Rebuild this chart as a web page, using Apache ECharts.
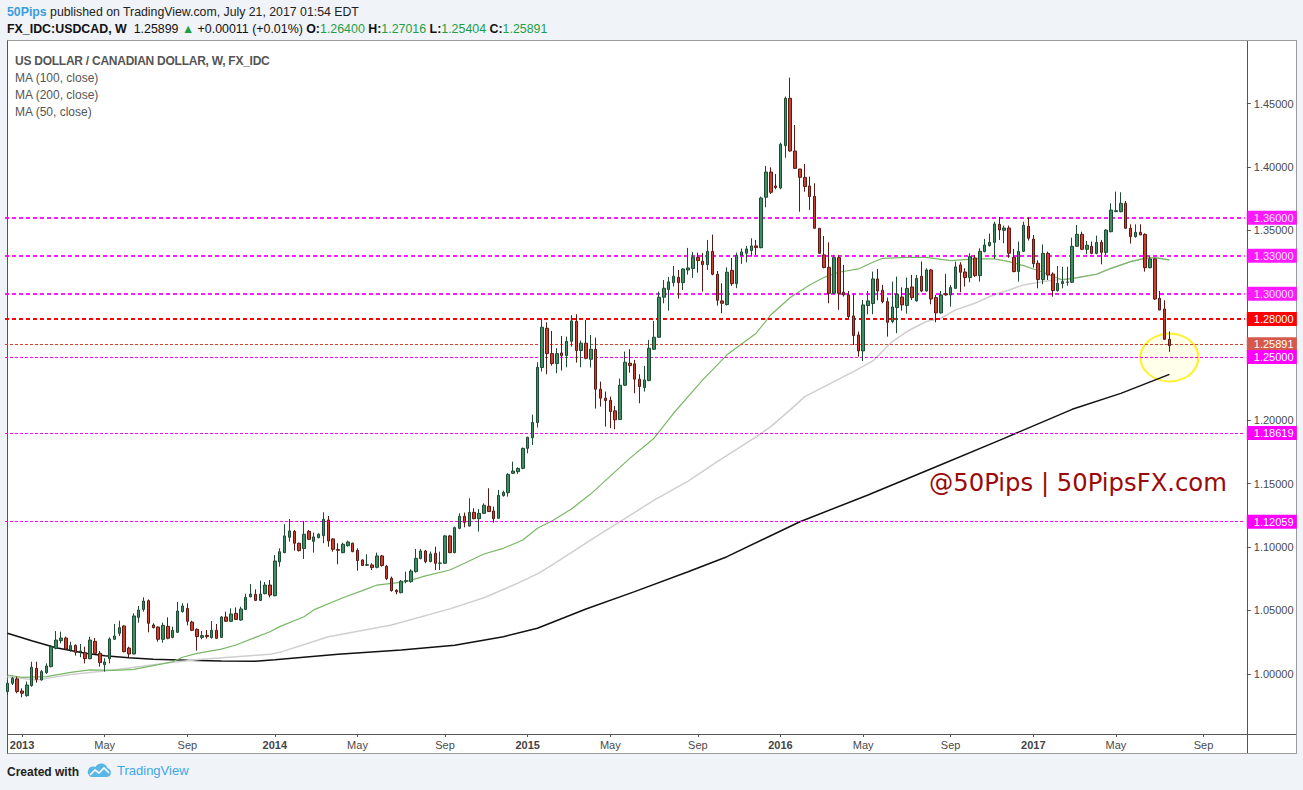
<!DOCTYPE html>
<html>
<head>
<meta charset="utf-8">
<script src="https://cdn.jsdelivr.net/npm/echarts@6/dist/echarts.min.js"></script>
<style>
html,body{margin:0;padding:0;background:#f0f3f7;}
body{width:1303px;height:790px;overflow:hidden;position:relative;font-family:"Liberation Sans",Arial,sans-serif;}
#panel{position:absolute;left:7px;top:40px;width:1288px;height:712px;background:#fff;border:1px solid #9a9a9a;border-left-color:#555;z-index:0;}
#hline{position:absolute;left:8px;top:734px;width:1288px;height:1px;background:#555;z-index:1;}
#vline{position:absolute;left:1247px;top:41px;width:1px;height:712px;background:#555;z-index:1;}
#chart{position:absolute;left:0;top:0;width:1303px;height:790px;z-index:2;}
.t{position:absolute;white-space:nowrap;z-index:3;line-height:14px;}
.h1{left:7px;top:5px;font-size:12.3px;color:#222;}
.h2{left:7px;top:22px;font-size:12.4px;color:#111;}
.b{font-weight:bold;}
.g{color:#1f9e46;}
.leg{left:15px;font-size:12px;color:#555;}
.wm{left:929px;top:471px;font-family:"DejaVu Sans",sans-serif;font-size:24.3px;line-height:24px;color:#990a0a;}
.foot{left:7px;top:765px;font-size:12px;color:#222;font-weight:bold;}
.tv{left:117px;top:764px;font-size:13px;color:#3ea7e8;}
#logo{position:absolute;left:87px;top:763px;z-index:3;}
</style>
</head>
<body>
<div id="panel"></div>
<div id="hline"></div>
<div id="vline"></div>
<div id="chart"></div>

<div class="t h1"><span style="color:#3a9de0;font-weight:bold">50Pips</span> published on TradingView.com, July 21, 2017 01:54 EDT</div>
<div class="t h2"><span class="b">FX_IDC:USDCAD, W</span>&nbsp; 1.25899 <span class="g">&#9650;</span> +0.00011 (+0.01%) <span class="b">O:</span><span class="g">1.26400</span> <span class="b">H:</span><span class="g">1.27016</span> <span class="b">L:</span><span class="g">1.25404</span> <span class="b">C:</span><span class="g">1.25891</span></div>

<div class="t leg" style="top:54px;font-weight:bold;letter-spacing:-0.25px">US DOLLAR / CANADIAN DOLLAR, W, FX_IDC</div>
<div class="t leg" style="top:71px">MA (100, close)</div>
<div class="t leg" style="top:88px">MA (200, close)</div>
<div class="t leg" style="top:105px">MA (50, close)</div>

<div class="t wm">@50Pips | 50PipsFX.com</div>

<div class="t foot">Created with</div>
<svg id="logo" width="25" height="15" viewBox="0 0 25 15">
  <path d="M4 14 H20 A4.5 4.5 0 0 0 20.5 5.2 A6.5 6.5 0 0 0 8.5 4 A5 5 0 0 0 4 14 Z" fill="#5ab6e6"/>
  <polyline points="3,12 8,7 12,10 17,5 22,10" fill="none" stroke="#ffffff" stroke-width="1.6"/>
</svg>
<div class="t tv">TradingView</div>

<script>
// ---- weekly candles (USDCAD, W), index 0 = week of 16/17 Dec 2012 ----
const opens = [
0.9859,0.9925,0.9959,0.9864,0.9827,0.9906,1.0043,0.9951,1.0009,1.0056,
1.0201,1.0261,1.0282,1.0188,1.0224,1.0172,1.0166,1.0119,1.0256,1.0161,
1.0072,1.0119,1.0272,1.0319,1.0377,1.0203,1.0156,1.0445,1.0508,1.0577,
1.0385,1.0369,1.0272,1.0374,1.0287,1.0327,1.0490,1.0516,1.0408,1.0351,
1.0287,1.0303,1.0285,1.0343,1.0287,1.0448,1.0414,1.0477,1.0424,1.0508,
1.0608,1.0627,1.0579,1.0632,1.0700,1.0616,1.0884,1.0956,1.1077,1.1124,
1.1030,1.0988,1.1124,1.1045,1.1074,1.1090,1.1214,1.1064,1.0980,1.0956,
1.1011,1.1030,1.0974,1.0898,1.0856,1.0859,1.0840,1.0930,1.0848,1.0754,
1.0659,1.0640,1.0730,1.0727,1.0806,1.0909,1.0969,1.0885,1.0951,1.0872,
1.0872,1.1088,1.0956,1.1148,1.1243,1.1166,1.1274,1.1224,1.1266,1.1322,
1.1285,1.1227,1.1406,1.1429,1.1582,1.1595,1.1621,1.1779,1.1863,1.1983,
1.2417,1.2727,1.2527,1.2448,1.2532,1.2511,1.2624,1.2782,1.2551,1.2609,
1.2482,1.2561,1.2246,1.2175,1.2159,1.2075,1.2006,1.2277,1.2451,1.2446,
1.2325,1.2259,1.2314,1.2561,1.2656,1.2972,1.3032,1.3087,1.3129,1.3087,
1.3187,1.3198,1.3287,1.3256,1.3229,1.3334,1.3153,1.2943,1.2914,1.3184,
1.3079,1.3303,1.3319,1.3340,1.3377,1.3363,1.3761,1.3960,1.3850,1.3834,
1.4168,1.4542,1.4126,1.3984,1.3918,1.3850,1.3768,1.3516,1.3306,1.3208,
1.3003,1.3284,1.3011,1.2990,1.2824,1.2674,1.2548,1.2906,1.2922,1.3116,
1.3027,1.2937,1.2780,1.2890,1.2974,1.2906,1.3053,1.2943,1.3137,1.3021,
1.3187,1.2969,1.2848,1.3000,1.2990,1.3042,1.3227,1.3171,1.3127,1.3282,
1.3142,1.3332,1.3379,1.3405,1.3547,1.3500,1.3518,1.3287,1.3174,1.3334,
1.3532,1.3431,1.3240,1.3111,1.3318,1.3155,1.3024,1.3080,1.3090,1.3090,
1.3374,1.3468,1.3350,1.3374,1.3318,1.3405,1.3326,1.3489,1.3647,1.3647,
1.3713,1.3516,1.3450,1.3484,1.3468,1.3205,1.3274,1.2963,1.2879,1.26400
];
const highs = [
0.9951,0.9977,0.9977,0.9885,0.9938,1.0095,1.0095,1.0030,1.0082,1.0227,
1.0337,1.0332,1.0293,1.0253,1.0232,1.0235,1.0214,1.0293,1.0282,1.0180,
1.0122,1.0287,1.0393,1.0419,1.0382,1.0214,1.0477,1.0535,1.0603,1.0587,
1.0398,1.0372,1.0403,1.0445,1.0372,1.0566,1.0556,1.0556,1.0419,1.0358,
1.0337,1.0345,1.0416,1.0393,1.0456,1.0490,1.0516,1.0524,1.0529,1.0632,
1.0708,1.0666,1.0735,1.0724,1.0740,1.0937,1.0990,1.1180,1.1222,1.1135,
1.1035,1.1206,1.1135,1.1114,1.1109,1.1274,1.1245,1.1069,1.1030,1.1035,
1.1051,1.1035,1.0990,1.0903,1.0943,1.0872,1.0956,1.0938,1.0859,1.0767,
1.0667,1.0740,1.0806,1.0825,1.0985,1.0985,1.0977,1.0964,1.1003,1.0964,
1.1095,1.1095,1.1161,1.1266,1.1272,1.1385,1.1306,1.1301,1.1345,1.1464,
1.1319,1.1451,1.1445,1.1582,1.1674,1.1629,1.1785,1.1871,1.2045,1.2459,
1.2806,1.2774,1.2706,1.2569,1.2666,1.2661,1.2830,1.2837,1.2630,1.2793,
1.2674,1.2653,1.2306,1.2227,1.2188,1.2114,1.2330,1.2543,1.2561,1.2477,
1.2364,1.2430,1.2635,1.2785,1.3016,1.3108,1.3132,1.3219,1.3187,1.3200,
1.3361,1.3329,1.3324,1.3321,1.3424,1.3466,1.3179,1.3082,1.3208,1.3282,
1.3324,1.3356,1.3377,1.3437,1.3424,1.3766,1.4008,1.3997,1.3945,1.4192,
1.4555,1.4705,1.4331,1.3984,1.4023,1.3924,1.3871,1.3516,1.3455,1.3405,
1.3306,1.3306,1.3227,1.3021,1.2998,1.2701,1.2950,1.3021,1.3174,1.3195,
1.3069,1.2969,1.3095,1.3135,1.3050,1.3127,1.3148,1.3148,1.3253,1.3200,
1.3195,1.2990,1.3021,1.3156,1.3069,1.3253,1.3248,1.3200,1.3319,1.3306,
1.3358,1.3432,1.3474,1.3568,1.3605,1.3537,1.3537,1.3353,1.3411,1.3568,
1.3603,1.3463,1.3263,1.3389,1.3332,1.3168,1.3218,1.3213,1.3213,1.3442,
1.3542,1.3489,1.3416,1.3411,1.3458,1.3424,1.3508,1.3713,1.3805,1.3800,
1.3731,1.3547,1.3547,1.3547,1.3476,1.3292,1.3279,1.3021,1.2948,1.27016
];
const lows = [
0.9832,0.9911,0.9846,0.9814,0.9819,0.9898,0.9930,0.9946,0.9998,1.0051,
1.0193,1.0240,1.0188,1.0174,1.0143,1.0130,1.0082,1.0114,1.0156,1.0056,
1.0017,1.0082,1.0266,1.0298,1.0169,1.0130,1.0153,1.0403,1.0490,1.0327,
1.0358,1.0253,1.0245,1.0272,1.0280,1.0324,1.0482,1.0382,1.0337,1.0182,
1.0272,1.0277,1.0277,1.0274,1.0282,1.0408,1.0408,1.0424,1.0419,1.0503,
1.0603,1.0574,1.0574,1.0627,1.0603,1.0611,1.0845,1.0951,1.1043,1.0972,
1.0964,1.0906,1.1056,1.0956,1.1069,1.1030,1.1003,1.0964,1.0864,1.0951,
1.1003,1.0959,1.0814,1.0851,1.0851,1.0819,1.0832,1.0846,1.0740,1.0648,
1.0627,1.0635,1.0714,1.0719,1.0798,1.0903,1.0872,1.0880,1.0819,1.0819,
1.0867,1.0951,1.0951,1.1140,1.1156,1.1161,1.1219,1.1122,1.1261,1.1277,
1.1193,1.1224,1.1398,1.1398,1.1577,1.1577,1.1614,1.1740,1.1806,1.1943,
1.2385,1.2364,1.2432,1.2372,1.2393,1.2419,1.2582,1.2456,1.2419,1.2482,
1.2417,1.2093,1.2109,1.1951,1.1938,1.1930,1.2004,1.2272,1.2377,1.2214,
1.2135,1.2227,1.2309,1.2556,1.2651,1.2924,1.2866,1.3056,1.2961,1.3029,
1.3150,1.3124,1.3166,1.3016,1.3187,1.3145,1.2906,1.2845,1.2906,1.3061,
1.3043,1.3235,1.3248,1.3292,1.3306,1.3358,1.3682,1.3787,1.3824,1.3824,
1.4073,1.4121,1.3984,1.3647,1.3805,1.3661,1.3511,1.3313,1.3200,1.2924,
1.2998,1.2872,1.2977,1.2801,1.2595,1.2503,1.2469,1.2837,1.2837,1.2948,
1.2924,1.2661,1.2766,1.2688,1.2866,1.2843,1.2950,1.2937,1.3011,1.3016,
1.2916,1.2774,1.2843,1.2985,1.2898,1.3037,1.3011,1.3056,1.3090,1.3132,
1.3095,1.3326,1.3371,1.3274,1.3424,1.3398,1.3284,1.3169,1.3095,1.3329,
1.3419,1.3205,1.3042,1.3074,1.3108,1.2976,1.3016,1.3042,1.3063,1.3084,
1.3368,1.3345,1.3311,1.3311,1.3311,1.3232,1.3305,1.3484,1.3647,1.3642,
1.3510,1.3395,1.3442,1.3463,1.3174,1.3200,1.2950,1.2869,1.2635,1.25404
];
const closes = [
0.9925,0.9964,0.9859,0.9846,0.9911,1.0051,0.9956,1.0017,1.0061,1.0214,
1.0266,1.0282,1.0195,1.0222,1.0169,1.0180,1.0119,1.0266,1.0161,1.0088,
1.0093,1.0274,1.0298,1.0364,1.0174,1.0156,1.0456,1.0503,1.0574,1.0398,
1.0364,1.0272,1.0382,1.0280,1.0343,1.0495,1.0535,1.0414,1.0343,1.0293,
1.0301,1.0293,1.0343,1.0280,1.0448,1.0414,1.0472,1.0429,1.0511,1.0603,
1.0629,1.0579,1.0629,1.0700,1.0621,1.0890,1.0963,1.1088,1.1127,1.1030,
1.0972,1.1101,1.1061,1.1080,1.1101,1.1219,1.1048,1.0982,1.0974,1.1022,
1.1040,1.0964,1.0893,1.0854,1.0861,1.0838,1.0930,1.0854,1.0751,1.0656,
1.0646,1.0730,1.0735,1.0811,1.0911,1.0969,1.0885,1.0946,1.0872,1.0874,
1.1088,1.0956,1.1153,1.1243,1.1195,1.1274,1.1224,1.1266,1.1330,1.1280,
1.1224,1.1408,1.1432,1.1574,1.1600,1.1621,1.1779,1.1866,1.1984,1.2419,
1.2735,1.2527,1.2448,1.2527,1.2511,1.2624,1.2785,1.2551,1.2609,1.2490,
1.2561,1.2246,1.2175,1.2156,1.2070,1.2004,1.2277,1.2459,1.2432,1.2325,
1.2267,1.2319,1.2569,1.2656,1.2972,1.3043,1.3093,1.3137,1.3087,1.3195,
1.3203,1.3287,1.3261,1.3229,1.3334,1.3153,1.2948,1.2924,1.3169,1.3079,
1.3303,1.3329,1.3353,1.3377,1.3363,1.3755,1.3960,1.3800,1.3837,1.4179,
1.4542,1.4126,1.3989,1.3918,1.3845,1.3766,1.3516,1.3319,1.3206,1.3003,
1.3284,1.3003,1.2990,1.2819,1.2669,1.2548,1.2911,1.2943,1.3116,1.3021,
1.2937,1.2774,1.2895,1.2995,1.2911,1.3042,1.2969,1.3121,1.3021,1.3187,
1.2958,1.2848,1.2990,1.2990,1.3048,1.3211,1.3169,1.3127,1.3292,1.3142,
1.3334,1.3384,1.3405,1.3550,1.3503,1.3518,1.3319,1.3174,1.3334,1.3540,
1.3437,1.3237,1.3111,1.3318,1.3147,1.3024,1.3082,1.3095,1.3092,1.3374,
1.3468,1.3350,1.3382,1.3318,1.3405,1.3326,1.3502,1.3660,1.3655,1.3713,
1.3516,1.3450,1.3484,1.3463,1.3205,1.3274,1.2958,1.2871,1.2640,1.25891
];

// ---- moving averages: [week index, value] ----
const ma50 = [
[0,0.9990],[3,0.9972],[8,0.9977],[13,1.0011],[17,1.0030],[22,1.0027],[26,1.0035],[30,1.0064],
[34,1.0095],[36,1.0130],[39,1.0161],[44,1.0195],[47,1.0227],[51,1.0287],[54,1.0332],[56,1.0372],
[61,1.0450],[63,1.0504],[69,1.0600],[73,1.0656],[76,1.0700],[82,1.0727],[86,1.0772],[91,1.0819],
[94,1.0872],[98,1.0945],[102,1.0990],[106,1.1056],[109,1.1148],[112,1.1205],[116,1.1300],[120,1.1420],
[124,1.1560],[128,1.1700],[133,1.1859],[137,1.2056],[143,1.2319],[148,1.2517],[154,1.2688],[157,1.2832],
[161,1.2970],[165,1.3069],[168,1.3129],[171,1.3169],[175,1.3195],[178,1.3248],[180,1.3279],[185,1.3287],
[189,1.3287],[194,1.3261],[199,1.3274],[203,1.3274],[206,1.3253],[209,1.3221],[211,1.3195],[213,1.3169],
[217,1.3108],[220,1.3126],[224,1.3153],[227,1.3200],[231,1.3253],[234,1.3279],[236,1.3284],[239,1.3266]
];
const ma100 = [
[0,0.9977],[6,0.9951],[13,0.9995],[20,1.0022],[27,1.0056],[34,1.0090],[40,1.0114],[47,1.0135],
[54,1.0153],[56,1.0169],[66,1.0292],[79,1.0385],[91,1.0512],[98,1.0600],[105,1.0715],[109,1.0788],
[112,1.0858],[120,1.1056],[126,1.1200],[133,1.1370],[140,1.1520],[146,1.1674],[154,1.1870],[157,1.1951],
[161,1.2083],[164,1.2187],[174,1.2384],[178,1.2469],[182,1.2622],[185,1.2701],[189,1.2780],[192,1.2806],
[195,1.2872],[199,1.2924],[202,1.2977],[206,1.3029],[209,1.3069],[213,1.3095],[217,1.3113],[220,1.3126],
[224,1.3153],[227,1.3200],[231,1.3253],[234,1.3279],[236,1.3284],[239,1.3266]
];
const ma200 = [
[0,1.0319],[5,1.0260],[10,1.0206],[16,1.0161],[20,1.0143],[25,1.0127],[30,1.0114],[37,1.0106],
[44,1.0101],[51,1.0098],[55,1.0110],[68,1.0153],[81,1.0187],[92,1.0225],[102,1.0292],[109,1.0359],
[119,1.0511],[129,1.0648],[140,1.0805],[148,1.0924],[163,1.1200],[177,1.1411],[191,1.1634],[205,1.1858],
[219,1.2087],[229,1.2213],[239,1.2363]
];

// ---- horizontal levels and axis ticks ----
const levels = [1.36, 1.33, 1.30, 1.28, 1.25891, 1.25, 1.18619, 1.12059];
const priceTicks = [1.00, 1.05, 1.10, 1.15, 1.20, 1.25, 1.30, 1.35, 1.40, 1.45];
const timeTickIndex = [3, 20, 37, 55, 72, 90, 107, 124, 142, 159, 176, 194, 211, 228, 246];
const timeTickText = ['2013','May','Sep','2014','May','Sep','2015','May','Sep','2016','May','Sep','2017','May','Sep'];
const highlight = [[239, 1.2496]];   // circled last bar

const slotCount = 255;
const categories = Array.from({length: slotCount}, (_, i) => 'w' + i);
const tickMap = {};
timeTickIndex.forEach((k, j) => { tickMap[k] = timeTickText[j]; });

const levelStyle = (v) => {
  if (v === 1.36 || v === 1.33 || v === 1.30) return {line: {color: '#ff00ff', width: 2, type: [4, 3], opacity: 0.9}, box: '#ff00ff'};
  if (v === 1.28) return {line: {color: '#ff0000', width: 2, type: [4, 3]}, box: '#ff0000'};
  if (v === 1.25891) return {line: {color: '#d9402a', width: 1, type: [3, 2]}, box: '#d4594a'};
  return {line: {color: '#ff00ff', width: 1, type: [3, 2]}, box: '#ff00ff'};
};

const maLine = (name, data, color, width) => ({
  name, type: 'line', data, showSymbol: false, z: 4, silent: true,
  smooth: false, lineStyle: {color, width}
});

const chart = echarts.init(document.getElementById('chart'), null, {renderer: 'svg'});
chart.setOption({
  animation: false,
  backgroundColor: 'transparent',
  grid: {left: 5, right: 58.2, top: 40, bottom: 56, containLabel: false},
  xAxis: {
    type: 'category', data: categories, boundaryGap: true,
    axisLine: {show: false},
    axisTick: {show: true, alignWithLabel: true, interval: (i) => tickMap[i] !== undefined, length: 3, lineStyle: {color: '#555'}},
    axisLabel: {
      interval: (i) => tickMap[i] !== undefined,
      formatter: (v, i) => { const t = tickMap[i]; if (t === undefined) return ''; return /^\d{4}$/.test(t) ? '{y|' + t + '}' : t; },
      rich: {y: {fontWeight: 'bold', fontSize: 11, color: '#444', fontFamily: 'Liberation Sans'}},
      margin: 5, color: '#4a4a4a', fontSize: 11, fontFamily: 'Liberation Sans'
    },
    splitLine: {show: false}
  },
  yAxis: {
    type: 'value', position: 'right', offset: 2, min: 0.95245, max: 1.5002,
    axisLine: {show: false},
    axisTick: {show: true, length: 4, lineStyle: {color: '#555'}, customValues: priceTicks},
    axisLabel: {customValues: priceTicks, formatter: (v) => v.toFixed(5), color: '#4a4a4a', fontSize: 11, margin: 7, fontFamily: 'Liberation Sans'},
    splitLine: {show: false}
  },
  series: [
    {
      name: 'levels', type: 'line', data: [], z: 2, silent: true,
      markLine: {
        silent: true, symbol: ['none', 'none'], animation: false,
        data: levels.map((v) => {
          const s = levelStyle(v);
          return {
            yAxis: v, lineStyle: s.line,
            label: {
              show: true, position: 'end', distance: 2, formatter: () => v.toFixed(5),
              backgroundColor: s.box, color: '#fff', fontSize: 11, fontFamily: 'Liberation Sans',
              padding: [1, 0, 0, 7], width: 43, overflow: 'none', lineHeight: 13, align: 'left'
            }
          };
        })
      }
    },
    {
      name: 'circle', type: 'scatter', data: highlight, z: 3, silent: true,
      symbol: 'circle', symbolSize: [58, 48],
      itemStyle: {color: 'rgba(255,255,150,0.25)', borderColor: '#ffee00', borderWidth: 2}
    },
    maLine('MA 200', ma200, '#111', 1.5),
    maLine('MA 100', ma100, '#cfcfcf', 1.5),
    maLine('MA 50', ma50, '#79b866', 1.2),
    {
      name: 'USDCAD', type: 'candlestick', z: 5, barWidth: 3,
      data: opens.map((o, i) => [o, closes[i], lows[i], highs[i]]),
      itemStyle: {color: '#3f8d60', color0: '#c9402f', borderColor: '#1e4b33', borderColor0: '#5b1a13', borderWidth: 1}
    }
  ]
});
</script>
</body>
</html>
